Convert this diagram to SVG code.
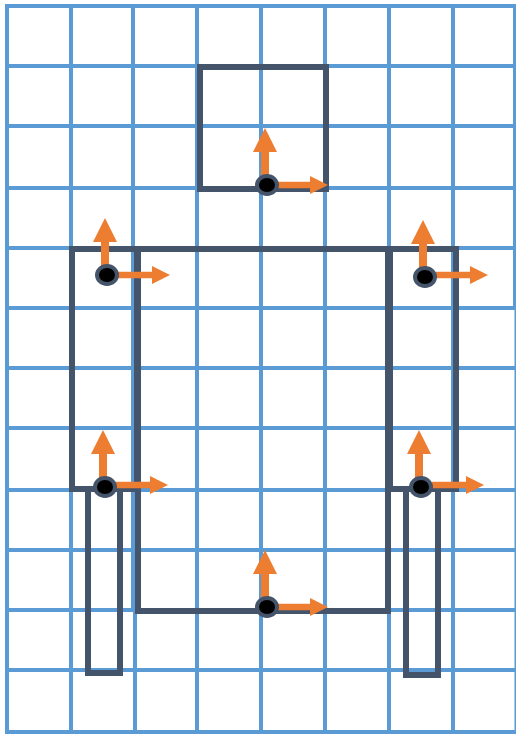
<svg xmlns="http://www.w3.org/2000/svg" width="516" height="734" viewBox="0 0 516 734">
<style>
.g{stroke:#5B9BD5;stroke-width:4;fill:none}
.s{stroke:#44546A;stroke-width:6;fill:none}
.a{fill:#ED7D31}
.d{fill:#000;stroke:#44546A;stroke-width:4}
</style>
<defs>
<path id="up" class="a" d="M-12 24L0 0L12 24H4V52H-4V24Z"/>
<path id="right" class="a" d="M-18 -9L0 0L-18 9V3.200H-52V-3.200H-18Z"/>
<ellipse id="dot" class="d" cx="0" cy="0" rx="10" ry="9"/>
</defs>
<rect width="516" height="734" fill="#fff"/>
<g id="grid">
<path class="g" d="M7 4V734M71 4V734M133 4V610M135 610V732M197 4V732M261 4V732M325 4V732M389 4V732M453 4V732M515 4V308"/>
<path class="g" d="M5 6H516M5 66H516M5 126H516M5 188H516M5 248H516M5 308H516M5 368H515M5 428H515M5 490H515M5 550H515M5 610H515M5 670H515M5 732H515"/>
<path stroke="#5B9BD5" stroke-width="1.500" d="M515.250 308V734" fill="none"/>
</g>
<g id="head"><rect class="s" x="200" y="67" width="126" height="122"/></g>
<g id="body"><rect class="s" x="138" y="249" width="250" height="362"/></g>
<g id="left-arm"><rect class="s" x="72" y="249" width="65" height="240"/></g>
<g id="right-arm"><rect class="s" x="390" y="249" width="66" height="240"/></g>
<g id="left-leg"><rect class="s" x="88" y="489" width="32" height="184"/></g>
<g id="right-leg"><rect class="s" x="406" y="489" width="32" height="186"/></g>
<g id="frame-head"><use href="#up" x="265" y="128"/><use href="#right" x="328" y="185"/><use href="#dot" x="267" y="185"/></g>
<g id="frame-left-shoulder"><use href="#up" x="105" y="218"/><use href="#right" x="170" y="275"/><use href="#dot" x="107" y="275"/></g>
<g id="frame-right-shoulder"><use href="#up" x="423" y="220"/><use href="#right" x="488" y="275"/><use href="#dot" x="425" y="277"/></g>
<g id="frame-left-hip"><use href="#up" x="103" y="430"/><use href="#right" x="168" y="485"/><use href="#dot" x="105" y="487"/></g>
<g id="frame-right-hip"><use href="#up" x="419" y="430"/><use href="#right" x="484" y="485"/><use href="#dot" x="421" y="487"/></g>
<g id="frame-body"><use href="#up" x="265" y="550"/><use href="#right" x="328" y="607"/><use href="#dot" x="267" y="607"/></g>
</svg>
